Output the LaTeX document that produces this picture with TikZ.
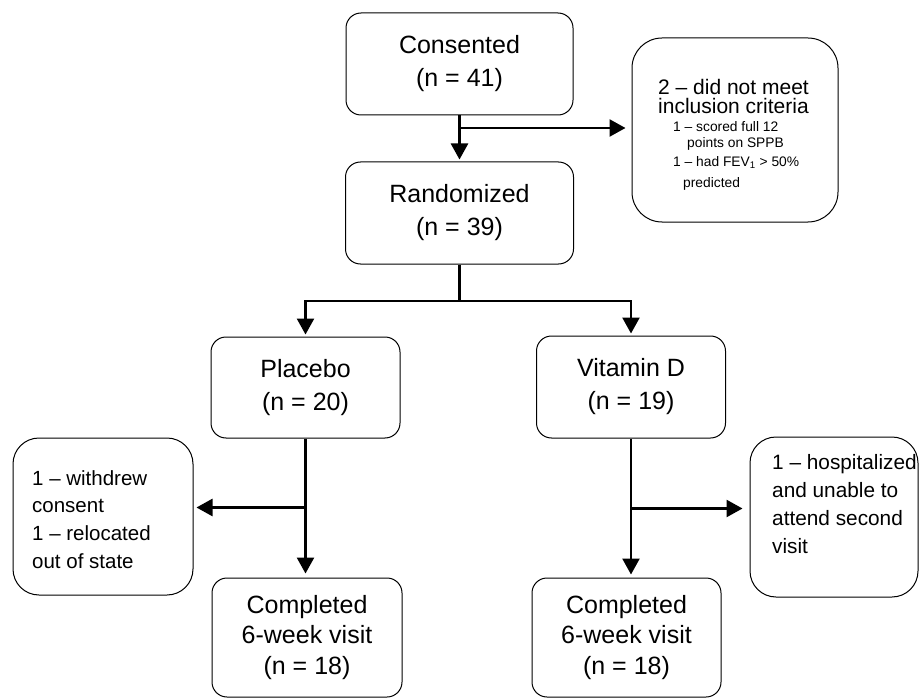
\documentclass[tikz,border=0pt]{standalone}
\usepackage{fontspec}
\setmainfont{Liberation Sans}
\usetikzlibrary{arrows.meta}

\begin{document}
\begin{tikzpicture}[x=1pt, y=-1pt, >={Triangle[length=16pt,width=17pt]},
  box/.style={draw, rounded corners=15pt, line width=1pt, align=center,
    inner sep=0pt, font=\fontsize{25}{33}\selectfont},
  sidebox/.style={draw, rounded corners=26pt, line width=1pt, inner sep=0pt},
  sidetext/.style={anchor=north west, align=left, inner sep=0pt},
  link/.style={line width=2.5pt, ->},
  trunk/.style={line width=2.5pt}]

\useasboundingbox (0,0) rectangle (919,698);

% main boxes
\node[box, minimum width=227pt, minimum height=102pt] (cons) at (459.5,64) {Consented\\(n = 41)};
\node[box, minimum width=228pt, minimum height=102pt] (rand) at (459.5,213) {Randomized\\(n = 39)};
\node[box, minimum width=189pt, minimum height=101pt] (plac) at (305.5,387.5) {Placebo\\(n = 20)};
\node[box, minimum width=189pt, minimum height=102pt] (vitd) at (631,387) {Vitamin D\\(n = 19)};
\node[box, minimum width=190pt, minimum height=119pt, font=\fontsize{25}{30.5}\selectfont] (comp1) at (307,637.5) {Completed\\6-week visit\\(n = 18)};
\node[box, minimum width=189pt, minimum height=119pt, font=\fontsize{25}{30.5}\selectfont] (comp2) at (626.5,637.5) {Completed\\6-week visit\\(n = 18)};

% side boxes
\node[sidebox, minimum width=206pt, minimum height=184pt, rounded corners=30pt] (excl) at (735,130) {};
\node[sidebox, minimum width=180pt, minimum height=157pt] (wdrw) at (103,516.5) {};
\node[sidebox, minimum width=168pt, minimum height=160pt] (hosp) at (834,517) {};

\node[sidetext, font=\fontsize{13.8}{16}\selectfont] (excltxt) at (658,79)
  {{\fontsize{21}{18}\selectfont 2 -- did not meet}\\[3pt]
   {\fontsize{21}{18}\selectfont inclusion criteria}\\[2pt]
   \hspace*{15pt}1 -- scored full 12\\
   \hspace*{29pt}points on SPPB\\[3pt]
   \hspace*{15pt}1 -- had FEV\textsubscript{1} > 50\%\\[5pt]
   \hspace*{25pt}predicted};
\node[sidetext, font=\fontsize{20.5}{27.7}\selectfont] (wdrwtxt) at (32,470)
  {1 -- withdrew\\consent\\1 -- relocated\\out of state};
\node[sidetext, font=\fontsize{20.8}{28}\selectfont] (hosptxt) at (772,454)
  {1 -- hospitalized\\and unable to\\attend second\\visit};

% connectors
\coordinate (c1) at (459.5,128);
\coordinate (split) at (459.5,301);
\path (plac.south) ++(0,69) coordinate (b1);
\path (vitd.south) ++(0,70) coordinate (b2);

\draw[link, shorten >=2pt] (cons) -- (rand);
\draw[link, shorten >=6pt] (c1) -- (c1 -| excl.west);
\draw[trunk] (rand) -- (split);
\draw[link, shorten >=2pt] (split) -| (plac);
\draw[link, shorten >=2pt] (split) -| (vitd);
\draw[link, shorten >=4pt] (plac.south) -- (plac.south |- comp1.north);
\draw[link, shorten >=3pt] (b1) -- (b1 -| wdrw.east);
\draw[link, shorten >=3pt] (vitd.south) -- (vitd.south |- comp2.north);
\draw[link, shorten >=7pt] (b2) -- (b2 -| hosp.west);
\end{tikzpicture}
\end{document}
